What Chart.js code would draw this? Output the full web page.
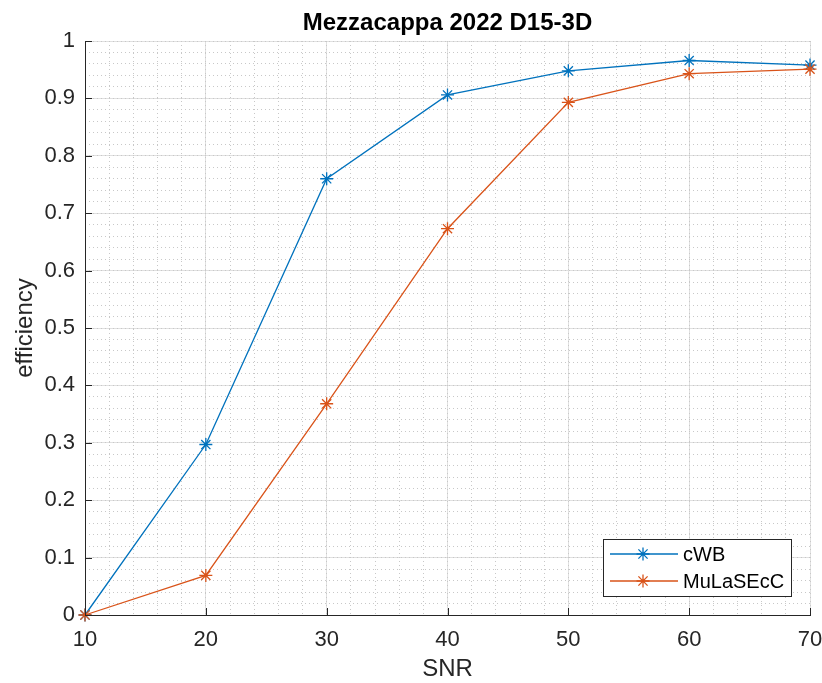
<!DOCTYPE html>
<html>
<head>
<meta charset="utf-8">
<script src="https://cdn.jsdelivr.net/npm/chart.js@4/dist/chart.umd.min.js"></script>
<style>
  html, body { margin: 0; padding: 0; background: #ffffff; }
  #wrap { width: 822px; height: 683px; }
</style>
</head>
<body>
<div id="wrap"><canvas id="c" width="822" height="683"></canvas></div>
<script>
// Detection efficiency versus injected SNR
const snr = [10, 20, 30, 40, 50, 60, 70];
const cwb = [0, 0.297, 0.760, 0.906, 0.948, 0.966, 0.958];
const mulasecc = [0, 0.069, 0.368, 0.673, 0.893, 0.943, 0.951];
const seriesNames = ['cWB', 'MuLaSEcC'];
const xTicks = [10, 20, 30, 40, 50, 60, 70];
const yTickLabels = ['0', '0.1', '0.2', '0.3', '0.4', '0.5', '0.6', '0.7', '0.8', '0.9', '1'];
const titleText = 'Mezzacappa 2022 D15-3D';
const xLabel = 'SNR';
const yLabel = 'efficiency';

const FONT = '"Liberation Sans", Arial, Helvetica, sans-serif';
const AXIS = '#262626';
const BLUE = '#0072BD';
const ORANGE = '#D95319';

const toPoints = (ys) => snr.map((x, i) => ({ x, y: ys[i] }));

function lineSet(label, ys, color, order) {
  return {
    label,
    data: toPoints(ys),
    borderColor: color,
    backgroundColor: color,
    borderWidth: 1.3,
    pointStyle: 'star',
    pointRadius: 6.5,
    pointHoverRadius: 6.5,
    pointBorderWidth: 1.3,
    pointBorderColor: color,
    tension: 0,
    clip: false,
    order
  };
}

// Inward tick marks, labels and the boxed legend
const decorations = {
  id: 'decorations',
  afterDraw(chart) {
    const { ctx, chartArea: a, scales } = chart;
    const xs = scales.x, ys = scales.y;
    ctx.save();
    ctx.strokeStyle = AXIS;
    ctx.lineWidth = 1;
    ctx.beginPath();
    xTicks.forEach(v => {
      const px = Math.round(xs.getPixelForValue(v)) + 0.5;
      ctx.moveTo(px, a.bottom);
      ctx.lineTo(px, a.bottom - 7);
    });
    yTickLabels.forEach(t => {
      const py = Math.round(ys.getPixelForValue(parseFloat(t))) + 0.5;
      ctx.moveTo(a.left, py);
      ctx.lineTo(a.left + 7, py);
    });
    ctx.stroke();

    // title and axis labels
    const cx = (a.left + a.right) / 2;
    ctx.fillStyle = '#000000';
    ctx.textAlign = 'center';
    ctx.textBaseline = 'middle';
    ctx.font = 'bold 24px ' + FONT;
    ctx.fillText(titleText, cx, 23);
    ctx.fillStyle = AXIS;
    ctx.font = '24px ' + FONT;
    ctx.fillText(xLabel, cx, 669);
    ctx.save();
    ctx.translate(25, (a.top + a.bottom) / 2);
    ctx.rotate(-Math.PI / 2);
    ctx.fillText(yLabel, 0, 0);
    ctx.restore();

    // legend box in the lower right corner
    const w = 188, h = 57;
    const lx = a.right - 19 - w, ly = a.bottom - 19 - h;
    ctx.fillStyle = '#ffffff';
    ctx.fillRect(lx, ly, w, h);
    ctx.strokeStyle = AXIS;
    ctx.strokeRect(Math.round(lx) + 0.5, Math.round(ly) + 0.5, w, h);
    ctx.font = '20px ' + FONT;
    ctx.textAlign = 'left';
    chart.data.datasets.forEach((ds, i) => {
      const rowY = ly + 15 + i * 27;
      ctx.strokeStyle = ds.borderColor;
      ctx.lineWidth = 1.3;
      ctx.beginPath();
      ctx.moveTo(lx + 7, rowY);
      ctx.lineTo(lx + 75, rowY);
      ctx.stroke();
      Chart.helpers.drawPoint(ctx, {
        pointStyle: 'star', radius: 6.5, rotation: 0, borderWidth: 1.3
      }, lx + 40, rowY);
      ctx.fillStyle = '#000000';
      ctx.fillText(ds.label, lx + 80, rowY + 1);
    });
    ctx.restore();
  }
};

const minorGrid = (axis) => ({
  type: 'linear',
  axis,
  position: axis === 'x' ? 'bottom' : 'left',
  min: axis === 'x' ? 10 : 0,
  max: axis === 'x' ? 70 : 1,
  z: -1,
  ticks: { display: false, stepSize: axis === 'x' ? 2 : 0.02 },
  grid: { color: '#c8c8c8', lineWidth: 1, drawTicks: false },
  border: { display: false, dash: [1, 3] },
  afterFit(scale) {
    if (axis === 'x') scale.height = 0; else scale.width = 0;
    scale.paddingLeft = scale.paddingRight = scale.paddingTop = scale.paddingBottom = 0;
  }
});

new Chart(document.getElementById('c'), {
  type: 'line',
  data: {
    datasets: [
      lineSet(seriesNames[0], cwb, BLUE, 2),
      lineSet(seriesNames[1], mulasecc, ORANGE, 1)
    ]
  },
  options: {
    responsive: false,
    animation: false,
    events: [],
    layout: { padding: { left: 0, right: 12, top: 41, bottom: 0 } },
    plugins: { legend: { display: false }, tooltip: { enabled: false }, title: { display: false } },
    scales: {
      x: {
        type: 'linear',
        position: 'bottom',
        min: 10, max: 70,
        afterBuildTicks(scale) { scale.ticks = xTicks.map(v => ({ value: v })); },
        ticks: { color: AXIS, font: { family: FONT, size: 22 }, padding: 12, maxRotation: 0,
                 callback: (v) => String(v) },
        grid: { color: '#e0e0e0', lineWidth: 1, drawTicks: false },
        border: { display: true, color: AXIS, width: 1 },
        afterFit(scale) {
          scale.height = 68;
          scale.paddingLeft = 0;
          scale.paddingRight = 0;
        }
      },
      y: {
        type: 'linear',
        position: 'left',
        min: 0, max: 1,
        afterBuildTicks(scale) { scale.ticks = yTickLabels.map(t => ({ value: parseFloat(t) })); },
        ticks: { color: AXIS, font: { family: FONT, size: 22 }, padding: 10,
                 callback: (v, i) => yTickLabels[i] },
        grid: { color: '#e0e0e0', lineWidth: 1, drawTicks: false },
        border: { display: true, color: AXIS, width: 1 },
        afterFit(scale) {
          scale.width = 85;
          scale.paddingTop = 0;
          scale.paddingBottom = 0;
        }
      },
      xMinor: minorGrid('x'),
      yMinor: minorGrid('y')
    }
  },
  plugins: [decorations]
});
</script>
</body>
</html>
